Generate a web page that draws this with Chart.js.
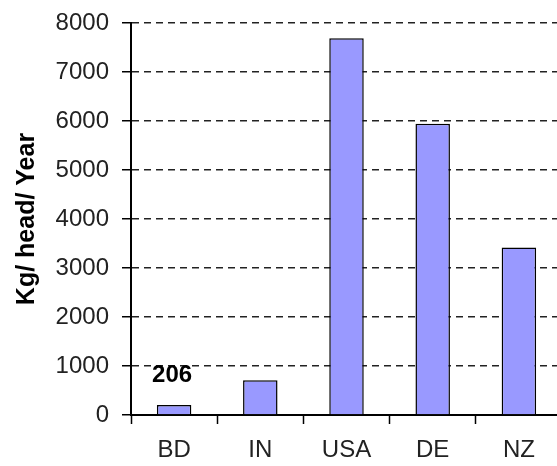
<!DOCTYPE html>
<html>
<head>
<meta charset="utf-8">
<script src="https://cdn.jsdelivr.net/npm/chart.js@4"></script>
<style>
  html, body { margin: 0; padding: 0; background: #fff; overflow: hidden; }
  #wrap { width: 600px; height: 466px; }
</style>
</head>
<body>
<div id="wrap"><canvas id="chart" width="600" height="466"></canvas></div>
<script>
const categories = ["BD", "IN", "USA", "DE", "NZ"];
const values = [206, 710, 7690, 5945, 3420];
const yTicks = [0, 1000, 2000, 3000, 4000, 5000, 6000, 7000, 8000];
const labelledIndex = 0; // only BD carries a value label

const FONT = "'Liberation Sans', Arial, sans-serif";

// draws the bold value label above the BD bar
const valueLabel = {
  id: "valueLabel",
  afterDatasetsDraw(chart) {
    const bar = chart.getDatasetMeta(0).data[labelledIndex];
    const ctx = chart.ctx;
    ctx.save();
    ctx.font = "bold 24px " + FONT;
    ctx.fillStyle = "#000";
    ctx.textAlign = "center";
    ctx.textBaseline = "middle";
    ctx.fillText(String(values[labelledIndex]), bar.x - 2, bar.y - 30);
    ctx.restore();
  },
};

new Chart(document.getElementById("chart"), {
  type: "bar",
  data: {
    labels: categories,
    datasets: [
      {
        data: values,
        backgroundColor: "#9999ff",
        borderColor: "#000",
        borderWidth: 1.5,
        barPercentage: 0.4,
        categoryPercentage: 1,
      },
    ],
  },
  options: {
    responsive: false,
    animation: false,
    layout: { padding: { top: 23, right: 38, left: 0, bottom: 0 } },
    plugins: {
      legend: { display: false },
      tooltip: { enabled: false },
    },
    scales: {
      x: {
        grid: {
          display: true,
          drawOnChartArea: false,
          tickLength: 9,
          tickColor: "#000",
          tickWidth: 1.5,
        },
        border: { color: "#000", width: 2 },
        ticks: {
          color: "#222",
          padding: 12,
          font: { family: FONT, size: 24 },
        },
        afterFit(scale) {
          scale.height = 51;
          scale.paddingLeft = 0;
          scale.paddingRight = 0;
        },
      },
      y: {
        min: 0,
        max: 8000,
        afterBuildTicks(scale) {
          scale.ticks = yTicks.map((v) => ({ value: v }));
        },
        grid: {
          color: "#222",
          lineWidth: 1.5,
          tickLength: 9,
          tickColor: "#000",
          tickWidth: 1.5,
        },
        border: { color: "#000", width: 2, dash: [7, 5] },
        ticks: {
          color: "#222",
          padding: 13,
          font: { family: FONT, size: 24 },
          callback: (v) => String(v),
        },
        title: {
          display: true,
          text: "Kg/ head/ Year",
          color: "#000",
          font: { family: FONT, size: 25, weight: "bold", lineHeight: 1.84 },
        },
        afterFit(scale) {
          scale.width = 131;
          scale.paddingTop = 0;
          scale.paddingBottom = 0;
        },
      },
    },
  },
  plugins: [valueLabel],
});
</script>
</body>
</html>
